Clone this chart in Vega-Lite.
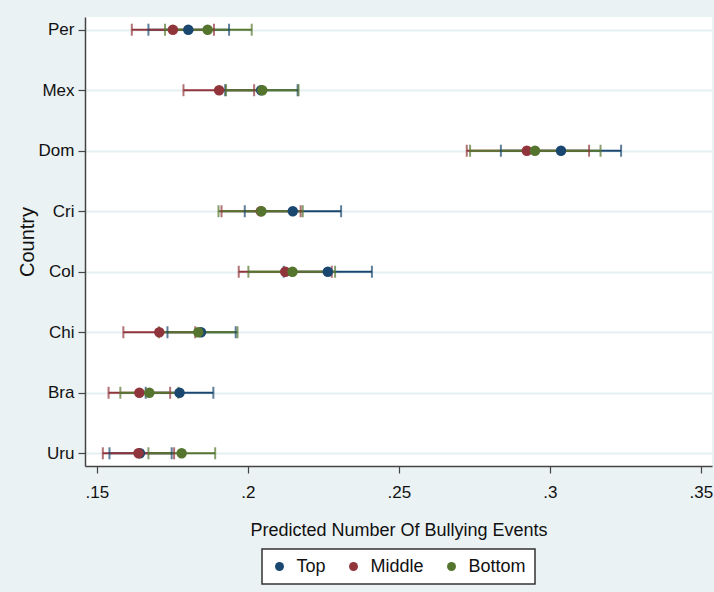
{
  "$schema": "https://vega.github.io/schema/vega-lite/v6.json",
  "width": 627,
  "height": 449,
  "autosize": {"type": "none"},
  "padding": {"left": 85, "top": 17, "right": 2, "bottom": 126},
  "background": "#eaf2f3",
  "config": {
    "font": "Liberation Sans",
    "view": {"fill": "white", "stroke": null},
    "axis": {
      "labelFont": "Liberation Sans",
      "titleFont": "Liberation Sans",
      "labelColor": "#111",
      "titleColor": "#111",
      "titleFontWeight": "normal",
      "domainColor": "#444",
      "domainWidth": 1.5,
      "tickColor": "#444",
      "tickWidth": 1.2,
      "tickSize": 7
    }
  },
  "data": {
    "values": [
      {"country": "Per", "group": "Top", "est": 0.1803, "lo": 0.1671, "hi": 0.1938},
      {"country": "Mex", "group": "Top", "est": 0.2044, "lo": 0.1925, "hi": 0.2165},
      {"country": "Dom", "group": "Top", "est": 0.3037, "lo": 0.2838, "hi": 0.3236},
      {"country": "Cri", "group": "Top", "est": 0.2149, "lo": 0.1990, "hi": 0.2309},
      {"country": "Col", "group": "Top", "est": 0.2265, "lo": 0.2119, "hi": 0.2411},
      {"country": "Chi", "group": "Top", "est": 0.1845, "lo": 0.1734, "hi": 0.1960},
      {"country": "Bra", "group": "Top", "est": 0.1774, "lo": 0.1662, "hi": 0.1886},
      {"country": "Uru", "group": "Top", "est": 0.1643, "lo": 0.1542, "hi": 0.1748},
      {"country": "Per", "group": "Middle", "est": 0.1752, "lo": 0.1616, "hi": 0.1888},
      {"country": "Mex", "group": "Middle", "est": 0.1905, "lo": 0.1787, "hi": 0.2021},
      {"country": "Dom", "group": "Middle", "est": 0.2924, "lo": 0.2725, "hi": 0.3130},
      {"country": "Cri", "group": "Middle", "est": 0.2043, "lo": 0.1913, "hi": 0.2175},
      {"country": "Col", "group": "Middle", "est": 0.2124, "lo": 0.1970, "hi": 0.2278},
      {"country": "Chi", "group": "Middle", "est": 0.1707, "lo": 0.1588, "hi": 0.1826},
      {"country": "Bra", "group": "Middle", "est": 0.1641, "lo": 0.1539, "hi": 0.1743},
      {"country": "Uru", "group": "Middle", "est": 0.1638, "lo": 0.1520, "hi": 0.1756},
      {"country": "Per", "group": "Bottom", "est": 0.1867, "lo": 0.1726, "hi": 0.2013},
      {"country": "Mex", "group": "Bottom", "est": 0.2048, "lo": 0.1928, "hi": 0.2168},
      {"country": "Dom", "group": "Bottom", "est": 0.2951, "lo": 0.2736, "hi": 0.3168},
      {"country": "Cri", "group": "Bottom", "est": 0.2045, "lo": 0.1903, "hi": 0.2182},
      {"country": "Col", "group": "Bottom", "est": 0.2148, "lo": 0.2002, "hi": 0.2289},
      {"country": "Chi", "group": "Bottom", "est": 0.1836, "lo": 0.1706, "hi": 0.1966},
      {"country": "Bra", "group": "Bottom", "est": 0.1674, "lo": 0.1578, "hi": 0.1770},
      {"country": "Uru", "group": "Bottom", "est": 0.1781, "lo": 0.1671, "hi": 0.1892}
    ]
  },
  "encoding": {
    "y": {
      "field": "country",
      "type": "nominal",
      "sort": ["Per", "Mex", "Dom", "Cri", "Col", "Chi", "Bra", "Uru"],
      "scale": {"type": "point", "padding": 0.21},
      "axis": {
        "title": "Country",
        "titleFontSize": 20,
        "titlePadding": 1,
        "labelFontSize": 17,
        "labelPadding": 4,
        "grid": true,
        "gridColor": "#e6eff1",
        "gridWidth": 1.8
      }
    },
    "color": {
      "field": "group",
      "type": "nominal",
      "sort": ["Top", "Middle", "Bottom"],
      "scale": {"domain": ["Top", "Middle", "Bottom"], "range": ["#1a476f", "#90353b", "#55752f"]},
      "legend": {
        "title": null,
        "orient": "none",
        "legendX": 177,
        "legendY": 532,
        "direction": "horizontal",
        "fillColor": "white",
        "strokeColor": "#333",
        "padding": 8.5,
        "symbolType": "circle",
        "symbolSize": 80,
        "symbolStrokeWidth": 0,
        "labelFont": "Liberation Sans",
        "labelFontSize": 18,
        "labelColor": "#111",
        "labelOffset": 8,
        "columnPadding": 18,
        "encode": {
          "legend": {"update": {"strokeWidth": {"value": 1.5}}},
          "symbols": {"update": {"fill": {"scale": "color", "field": "value"}, "stroke": {"value": "transparent"}}}
        }
      }
    }
  },
  "layer": [
    {
      "mark": {"type": "rule", "strokeWidth": 2},
      "encoding": {
        "x": {
          "field": "lo",
          "type": "quantitative",
          "scale": {"domain": [0.1461, 0.3537], "nice": false, "zero": false},
          "axis": {
            "title": "Predicted Number Of Bullying Events",
            "titleFontSize": 18,
            "titlePadding": 21,
            "labelFontSize": 17,
            "labelPadding": 11,
            "values": [0.15, 0.2, 0.25, 0.3, 0.35],
            "labelExpr": "replace(format(datum.value, '~g'), /^0/, '')",
            "grid": false
          }
        },
        "x2": {"field": "hi"}
      }
    },
    {
      "mark": {"type": "tick", "thickness": 2, "size": 12},
      "encoding": {"x": {"field": "lo", "type": "quantitative"}}
    },
    {
      "mark": {"type": "tick", "thickness": 2, "size": 12},
      "encoding": {"x": {"field": "hi", "type": "quantitative"}}
    },
    {
      "mark": {"type": "point", "filled": true, "size": 110, "opacity": 1, "shape": "circle"},
      "encoding": {"x": {"field": "est", "type": "quantitative"}}
    }
  ]
}
